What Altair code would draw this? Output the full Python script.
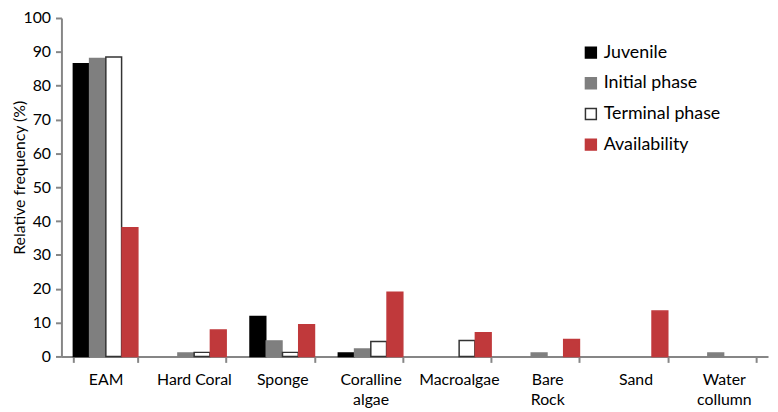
import altair as alt
import pandas as pd

categories = ["EAM", "Hard Coral", "Sponge", "Coralline algae", "Macroalgae",
              "Bare Rock", "Sand", "Water collumn"]
series = ["Juvenile", "Initial phase", "Terminal phase", "Availability"]
juvenile = [86.5, 0, 11.8, 1.0, 0, 0, 0, 0]
initial = [88.0, 1.0, 4.6, 2.2, 0, 1.0, 0, 1.0]
terminal = [88.5, 1.2, 1.2, 4.4, 4.7, 0, 0, 0]
availability = [38.0, 7.8, 9.4, 19.0, 7.0, 5.0, 13.4, 0]
y_ticks = list(range(0, 101, 10))

fills = ["#000000", "#7f7f7f", "#ffffff", "#c0393b"]
strokes = ["#000000", "#7f7f7f", "#333333", "#c0393b"]

rows = []
for s, vals in zip(series, [juvenile, initial, terminal, availability]):
    for c, v in zip(categories, vals):
        rows.append({"category": c, "series": s, "value": v})
df = pd.DataFrame(rows)

FONT = "Lato"
wrap = "indexof(['Coralline algae','Bare Rock','Water collumn'], datum.label) >= 0 ? split(datum.label, ' ') : datum.label"

legend = alt.Legend(title=None, orient="none", legendX=526, legendY=26,
                    symbolType="square", symbolSize=121,
                    symbolStrokeWidth=1.5, labelFontSize=18,
                    labelFont=FONT, labelColor="#000000",
                    labelOffset=4, rowPadding=13)

chart = alt.Chart(df).transform_filter(alt.datum.value > 0).mark_bar(strokeWidth=1.5).encode(
    x=alt.X("category:N", sort=categories, title=None,
            scale=alt.Scale(paddingInner=0.27, paddingOuter=0.135),
            axis=alt.Axis(labelAngle=0, tickBand="extent", labelExpr=wrap,
                          labelFontSize=16, labelLineHeight=21, labelPadding=9,
                          tickSize=6, labelColor="#000000", labelFont=FONT)),
    xOffset=alt.XOffset("series:N", sort=series, scale=alt.Scale(paddingInner=0.03)),
    y=alt.Y("value:Q", title="Relative frequency (%)",
            scale=alt.Scale(domain=[0, 100], nice=False),
            axis=alt.Axis(values=y_ticks, grid=False, tickSize=6, labelFontSize=16,
                          labelPadding=5, labelColor="#000000", labelFont=FONT,
                          titleFont=FONT, titleFontSize=16, titleFontWeight="normal",
                          titleColor="#000000", titleX=-42, titleY=161,
                          titleAngle=270, titleAlign="center", titleBaseline="middle")),
    fill=alt.Fill("series:N", sort=series,
                  scale=alt.Scale(domain=series, range=fills), legend=legend),
    stroke=alt.Stroke("series:N", sort=series,
                      scale=alt.Scale(domain=series, range=strokes), legend=legend),
).properties(
    width=714, height=342,
    autosize=alt.AutoSizeParams(type="none"),
    padding={"left": 54, "top": 8, "right": 2, "bottom": 50},
).configure_view(stroke=None).configure_axis(
    domainColor="#868686", tickColor="#868686", domainWidth=2, tickWidth=2
)

chart.save("out.html", embed_options={"renderer": "svg", "actions": False})
